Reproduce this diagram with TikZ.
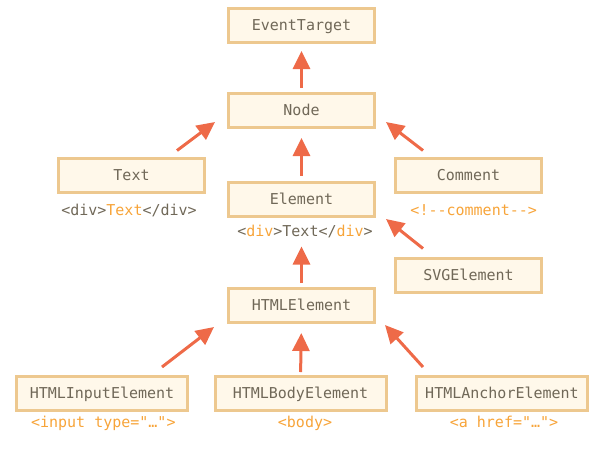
\documentclass[tikz,border=0pt]{standalone}
\usepackage{fontspec}
\newfontfamily\codefont{DejaVu Sans Mono}
\usetikzlibrary{arrows.meta}
\definecolor{boxfill}{HTML}{FFF8EA}
\definecolor{boxline}{HTML}{EDC88F}
\definecolor{txtgray}{HTML}{706858}
\definecolor{codeorange}{HTML}{F7A439}
\definecolor{arrowred}{HTML}{EE6A48}
\tikzset{
  cls/.style={draw=boxline, fill=boxfill, line width=3pt, outer sep=0pt,
    minimum width=146pt, minimum height=34pt, inner sep=0pt,
    text=txtgray, font=\codefont\fontsize{15}{17}\selectfont,
    text height=1em, text depth=0pt},
  widecls/.style={cls, minimum width=171pt},
  lbl/.style={inner sep=0pt, text=codeorange, font=\codefont\fontsize{15}{17}\selectfont,
    text height=1em, text depth=0pt},
  arr/.style={draw=arrowred, line width=3pt, -{Triangle[length=18pt,width=17pt]}, fill=arrowred}
}
\begin{document}
\begin{tikzpicture}[x=1pt, y=-1pt]
\useasboundingbox (0,0) rectangle (599,456);
% boxes
\node[cls] (et) at (301.5,25.5) {EventTarget};
\node[cls] (node) at (301.5,110.5) {Node};
\node[cls] (elem) at (301.5,199) {Element};
\node[cls] (html) at (301.5,305.5) {HTMLElement};
\node[cls] (text) at (131.5,175) {Text};
\node[cls] (comm) at (468.5,175) {Comment};
\node[cls] (svg) at (468.5,275) {SVGElement};
\node[widecls] (inp) at (102,393.5) {HTMLInputElement};
\node[widecls] (body) at (300.5,393.5) {HTMLBodyElement};
\node[widecls] (anc) at (502,393.5) {HTMLAnchorElement};
% labels
\node[lbl, text=txtgray] (textlbl) at (129,210.5) {<div>\textcolor{codeorange}{Text}</div>};
\node[lbl, text=txtgray] (elemlbl) at (305,231) {<\textcolor{codeorange}{div}>Text</\textcolor{codeorange}{div}>};
\node[lbl] (commlbl) at (473.7,210) {<!--comment-->};
\node[lbl] (inplbl) at (103.3,422.5) {<input type="…">};
\node[lbl] (bodylbl) at (305,422.5) {<body>};
\node[lbl] (anclbl) at (504,422.5) {<a href="…">};
% vertical arrows
\draw[arr, shorten <=5.5pt, shorten >=8.5pt] (node.north) -- (et.south);
\draw[arr, shorten <=6.5pt, shorten >=10.5pt] (elem.north) -- (node.south);
\draw[arr, shorten <=5.5pt, shorten >=30.5pt] (html.north) -- (elem.south);
\draw[arr, shorten <=4.5pt, shorten >=10.5pt] (body.north) -- (html.south);
% diagonal arrows
\draw[arr] ([shift={(-27.5,-7.5)}]text.north east) -- ([shift={(-13.5,-5.5)}]node.south west);
\draw[arr] ([shift={(27.5,-7.5)}]comm.north west) -- ([shift={(11.5,-5.5)}]node.south east);
\draw[arr] ([shift={(27.5,-9.5)}]svg.north west) -- ([shift={(11.5,3)}]elem.south east);
\draw[arr] ([shift={(-25.5,-9.5)}]inp.north east) -- ([shift={(-14.5,4.5)}]html.south west);
\draw[arr] ([shift={(6.5,-9.5)}]anc.north west) -- ([shift={(10.5,2.5)}]html.south east);
\end{tikzpicture}
\end{document}
